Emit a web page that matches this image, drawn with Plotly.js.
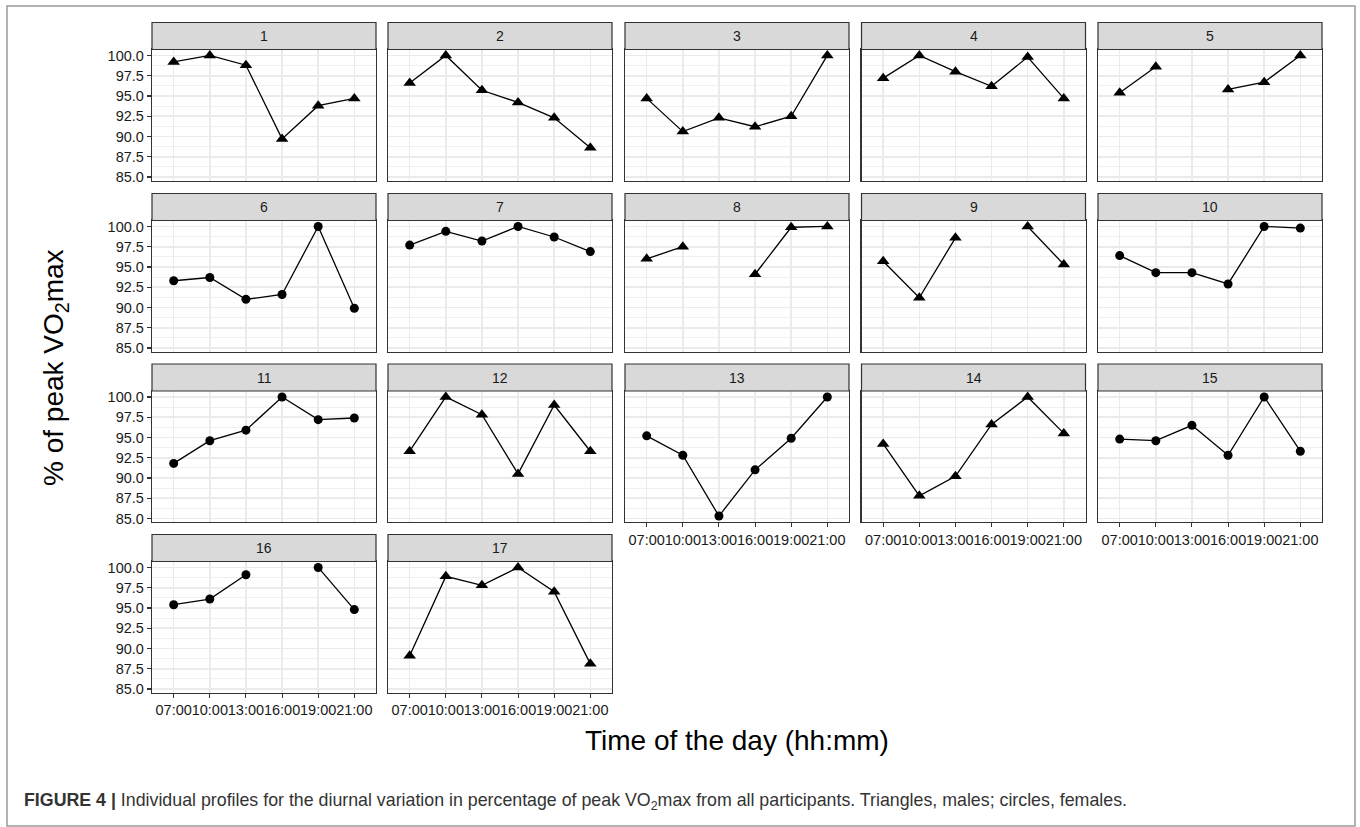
<!DOCTYPE html>
<html>
<head>
<meta charset="utf-8">
<script src="https://cdn.plot.ly/plotly-3.0.1.min.js"></script>
<style>
  html, body { margin: 0; padding: 0; background: #ffffff; }
  #chart { width: 1360px; height: 827px; }
</style>
</head>
<body>
<div id="chart"></div>
<script>
// ---- Data ----
const times = ['07:00', '10:00', '13:00', '16:00', '19:00', '21:00'];
const yTicks = [85.0, 87.5, 90.0, 92.5, 95.0, 97.5, 100.0];

const p01 = [99.2, 100.0, 98.8, 89.7, 93.8, 94.7];
const p02 = [96.6, 100.0, 95.7, 94.2, 92.3, 88.6];
const p03 = [94.7, 90.6, 92.3, 91.2, 92.5, 100.0];
const p04 = [97.2, 100.0, 98.0, 96.2, 99.8, 94.7];
const p05 = [95.4, 98.6, null, 95.8, 96.7, 100.0];
const p06 = [93.3, 93.7, 91.0, 91.6, 100.0, 89.9];
const p07 = [97.7, 99.4, 98.2, 100.0, 98.7, 96.9];
const p08 = [96.0, 97.5, null, 94.1, 99.9, 100.0];
const p09 = [95.7, 91.2, 98.6, null, 100.0, 95.3];
const p10 = [96.4, 94.3, 94.3, 92.9, 100.0, 99.8];
const p11 = [91.8, 94.6, 95.9, 100.0, 97.2, 97.4];
const p12 = [93.3, 100.0, 97.8, 90.5, 99.0, 93.3];
const p13 = [95.2, 92.8, 85.3, 91.0, 94.9, 100.0];
const p14 = [94.2, 87.8, 90.2, 96.6, 100.0, 95.5];
const p15 = [94.8, 94.6, 96.5, 92.8, 100.0, 93.3];
const p16 = [95.4, 96.1, 99.1, null, 100.0, 94.8];
const p17 = [89.1, 98.9, 97.8, 100.0, 97.0, 88.1];

const panelLabels = ['1','2','3','4','5','6','7','8','9','10','11','12','13','14','15','16','17'];
const panelSex = ['M','M','M','M','M','F','F','M','M','F','F','M','F','M','F','F','M'];
const panels = [p01,p02,p03,p04,p05,p06,p07,p08,p09,p10,p11,p12,p13,p14,p15,p16,p17];

// ---- Geometry (pixels) ----
const W = 1360, H = 827;
const colLeft = [152, 388, 625, 861.5, 1098];
const panelW = 224;
const rowTop = [49.5, 220.5, 391, 561.5];
const panelH = 131;
const stripH = 27;

const px = v => v / W;
const py = v => 1 - v / H;

// y range: data range expanded by 5% like ggplot
const allVals = panels.flat().filter(v => v !== null);
const yMin = Math.min(...allVals), yMax = Math.max(...allVals);
const pad = 0.05 * (yMax - yMin);
const yRange = [yMin - pad, yMax + pad];

const gridCol = '#EBEBEB';
const borderCol = '#333333';
const textCol = '#1a1a1a';
const fontFam = 'Liberation Sans, Arial, Helvetica, sans-serif';

const traces = [];
const layout = {
  width: W, height: H,
  margin: {l: 0, r: 0, t: 0, b: 0},
  paper_bgcolor: '#ffffff',
  plot_bgcolor: '#ffffff',
  showlegend: false,
  font: {family: fontFam, color: textCol},
  shapes: [],
  annotations: []
};

const n = panels.length;
for (let i = 0; i < n; i++) {
  const row = Math.floor(i / 5), col = i % 5;
  const idx = i + 1;
  const xa = 'xaxis' + (idx === 1 ? '' : idx);
  const ya = 'yaxis' + (idx === 1 ? '' : idx);
  const xr = 'x' + (idx === 1 ? '' : idx);
  const yr = 'y' + (idx === 1 ? '' : idx);
  const showX = (i + 5 >= n);
  const showY = (col === 0);
  const L = colLeft[col], T = rowTop[row];

  traces.push({
    x: times, y: panels[i],
    xaxis: xr, yaxis: yr,
    type: 'scatter', mode: 'lines+markers',
    connectgaps: false,
    line: {color: '#000000', width: 1.3},
    marker: panelSex[i] === 'M'
      ? {symbol: 'triangle-up', size: 11, color: '#000000'}
      : {symbol: 'circle', size: 9, color: '#000000'},
    hoverinfo: 'x+y'
  });

  layout[xa] = {
    domain: [px(L), px(L + panelW)],
    anchor: yr,
    type: 'category',
    categoryorder: 'array',
    categoryarray: times,
    range: [-0.6, times.length - 0.4],
    showgrid: true, gridcolor: gridCol, gridwidth: 1.6,
    zeroline: false,
    showline: true, linecolor: borderCol, linewidth: 1.2, mirror: true,
    ticks: showX ? 'outside' : '', ticklen: 4, tickwidth: 1.1, tickcolor: borderCol,
    showticklabels: showX,
    tickangle: 0,
    tickfont: {family: fontFam, size: 14.5, color: textCol},
    fixedrange: true
  };
  layout[ya] = {
    domain: [py(T + panelH), py(T)],
    anchor: xr,
    range: yRange,
    tickmode: 'array',
    tickvals: yTicks,
    ticktext: yTicks.map(v => v.toFixed(1)),
    showgrid: true, gridcolor: gridCol, gridwidth: 1.6,
    minor: {tick0: 85, dtick: 1.25, showgrid: true, gridcolor: gridCol, gridwidth: 0.8, ticks: ''},
    zeroline: false,
    showline: true, linecolor: borderCol, linewidth: 1.2, mirror: true,
    ticks: showY ? 'outside' : '', ticklen: 4, tickwidth: 1.1, tickcolor: borderCol,
    showticklabels: showY,
    tickfont: {family: fontFam, size: 14.5, color: textCol},
    fixedrange: true
  };

  // facet strip
  layout.shapes.push({
    type: 'rect', xref: 'paper', yref: 'paper',
    x0: px(L), x1: px(L + panelW), y0: py(T), y1: py(T - stripH),
    fillcolor: '#D9D9D9', line: {color: borderCol, width: 1.2}, layer: 'above'
  });
  layout.annotations.push({
    xref: 'paper', yref: 'paper',
    x: px(L + panelW / 2), y: py(T - stripH / 2),
    xanchor: 'center', yanchor: 'middle',
    text: panelLabels[i], showarrow: false,
    font: {family: fontFam, size: 14, color: textCol}
  });
}

// axis titles
layout.annotations.push({
  xref: 'paper', yref: 'paper', x: px(737), y: py(740),
  xanchor: 'center', yanchor: 'middle', showarrow: false,
  text: 'Time of the day (hh:mm)',
  font: {family: fontFam, size: 28, color: '#000000'}
});
layout.annotations.push({
  xref: 'paper', yref: 'paper', x: px(55), y: py(368),
  xanchor: 'center', yanchor: 'middle', showarrow: false, textangle: -90,
  text: '% of peak VO<sub>2</sub>max',
  font: {family: fontFam, size: 28, color: '#000000'}
});

// caption
layout.annotations.push({
  xref: 'paper', yref: 'paper', x: px(22), y: py(801),
  xanchor: 'left', yanchor: 'middle', showarrow: false, align: 'left',
  text: '<b>FIGURE 4 |</b> Individual profiles for the diurnal variation in percentage of peak VO<sub>2</sub>max from all participants. Triangles, males; circles, females.',
  font: {family: 'Liberation Sans Narrow, Arial Narrow, Liberation Sans, Arial, sans-serif', size: 17.8, color: '#333333'}
});

// outer frame
layout.shapes.push({
  type: 'rect', xref: 'paper', yref: 'paper',
  x0: px(7), x1: px(1355), y0: py(826), y1: py(6),
  fillcolor: 'rgba(0,0,0,0)', line: {color: '#9a9a9a', width: 1.5}, layer: 'above'
});

Plotly.newPlot('chart', traces, layout, {staticPlot: true, displayModeBar: false});
</script>
</body>
</html>
